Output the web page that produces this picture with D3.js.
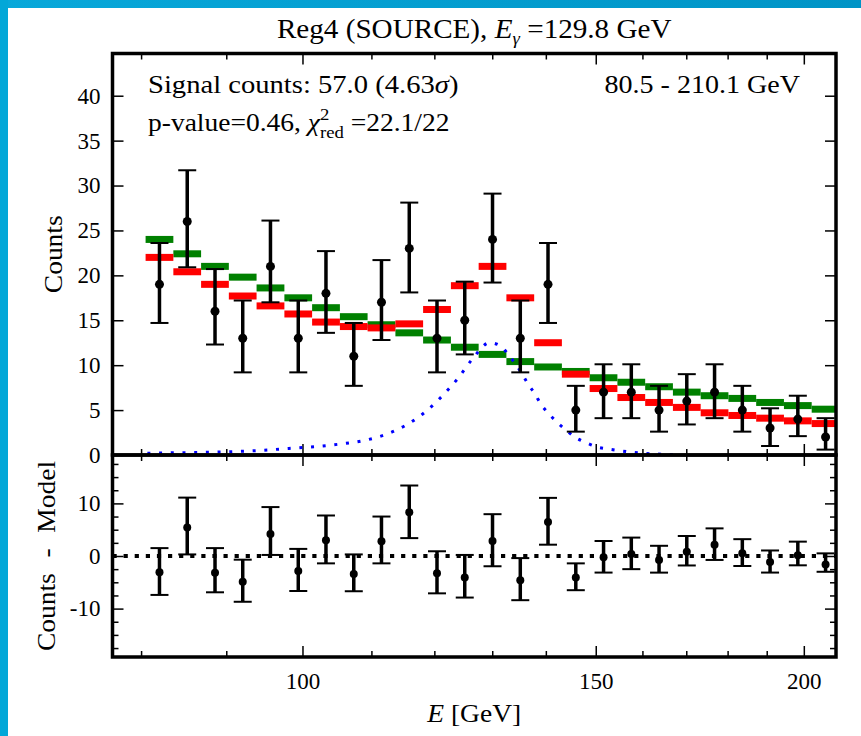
<!DOCTYPE html>
<html>
<head>
<meta charset="utf-8">
<title>Reg4 counts</title>
<script src="https://d3js.org/d3.v7.min.js"></script>
<style>
  body { margin: 0; background: #fff; }
  svg text { font-family: "Liberation Serif", "DejaVu Serif", serif; fill: #000; white-space: pre; }
</style>
</head>
<body>
<div id="chart"></div>
<script>
// energy bins (GeV), log spaced 80.5 - 210.1
var binEdges = [80.50, 83.65, 86.92, 90.32, 93.85, 97.53, 101.34, 105.31, 109.42, 113.71,
  118.15, 122.78, 127.58, 132.57, 137.76, 143.14, 148.74, 154.56, 160.61, 166.89,
  173.42, 180.20, 187.25, 194.58, 202.19, 210.10];
var binCenters = [82.06, 85.27, 88.61, 92.07, 95.67, 99.42, 103.30, 107.35, 111.54, 115.91,
  120.44, 125.15, 130.05, 135.14, 140.42, 145.92, 151.63, 157.56, 163.72, 170.12,
  176.78, 183.70, 190.88, 198.35, 206.11];
var counts = [19, 26, 16, 13, 21, 13, 18, 11, 17, 23, 13, 15, 24, 13, 19, 5, 7, 7, 5, 6, 7, 5, 3, 4, 2];
var errUp = [4.6, 5.7, 4.7, 4.2, 5.1, 4.2, 4.7, 3.7, 4.7, 5.1, 4.2, 4.3, 5.1, 4.2, 4.6, 2.7, 3.1, 3.1, 2.7, 3.0, 3.1, 2.7, 2.2, 2.6, 2.1];
var errDown = [4.3, 5.1, 3.7, 3.8, 4.0, 3.8, 4.4, 3.3, 4.2, 4.9, 3.8, 3.8, 4.8, 3.8, 4.3, 2.4, 2.9, 2.9, 2.4, 2.6, 2.9, 2.4, 2.0, 1.9, 1.4];
var modelRed = [22.0, 20.4, 19.0, 17.7, 16.6, 15.7, 14.8, 14.3, 14.15, 14.6, 16.2, 18.85, 21.0,
  17.5, 12.5, 9.0, 7.4, 6.4, 5.85, 5.3, 4.7, 4.4, 4.1, 3.8, 3.5];
var modelGreen = [24.0, 22.4, 21.0, 19.8, 18.6, 17.5, 16.4, 15.4, 14.5, 13.6, 12.8, 12.0, 11.2,
  10.4, 9.8, 9.3, 8.6, 8.1, 7.6, 7.0, 6.6, 6.3, 5.85, 5.5, 5.1];
var residuals = [-3.1, 5.4, -3.2, -4.9, 4.2, -2.85, 3.0, -3.4, 2.8, 8.3, -3.3, -4.1, 2.85,
  -4.6, 6.45, -4.1, -0.25, 0.4, -0.76, 0.8, 2.15, 0.5, -1.15, 0.13, -1.6];
// signal line (blue dotted)
var sigE = [80.7, 84.9, 89.2, 93.6, 98.4, 101.7, 105.0, 108.5, 112.1, 115.4, 118.6, 121.4, 124.1,
  126.5, 129.5, 131.6, 133.0, 134.3, 135.5, 136.6, 137.9, 139.0, 140.4, 142.1, 143.9, 145.7,
  147.9, 150.2, 152.6, 155.1, 157.7, 160.2, 162.9, 165.8, 168.6];
var sigV = [0.2, 0.26, 0.33, 0.48, 0.74, 0.93, 1.19, 1.56, 2.26, 3.33, 4.85, 6.63, 8.63,
  10.7, 12.5, 12.1, 11.1, 10.1, 9.0, 7.9, 6.8, 5.7, 4.7, 3.7, 2.8, 2.0,
  1.4, 0.9, 0.67, 0.48, 0.3, 0.19, 0.11, 0.07, 0.03];

var xMajor = [100, 150, 200];
var xMinor = [80, 90, 110, 120, 130, 140, 160, 170, 180, 190];
var yTicksTop = [0, 5, 10, 15, 20, 25, 30, 35, 40];
var yTicksBottom = [-10, 0, 10];
var yMinorBottom = [-17.5, -15, -12.5, -7.5, -5, -2.5, 2.5, 5, 7.5, 12.5, 15, 17.5];

var W = 861, H = 736;
var left = 112.5, right = 836, top1 = 53.5, mid = 455, bot = 657;
var FONT = '"Liberation Serif", "DejaVu Serif", serif';

var svg = d3.select('#chart').append('svg')
  .attr('width', W).attr('height', H)
  .attr('font-family', FONT);

// blue frame
var defs = svg.append('defs');
var grad = defs.append('linearGradient').attr('id', 'band');
grad.append('stop').attr('offset', '0%').attr('stop-color', '#08a8da');
grad.append('stop').attr('offset', '100%').attr('stop-color', '#0094c6');
svg.append('rect').attr('x', 0).attr('y', 0).attr('width', W).attr('height', 8).attr('fill', 'url(#band)');
svg.append('rect').attr('x', 0).attr('y', 0).attr('width', 8).attr('height', H).attr('fill', '#02a7d8');

defs.append('clipPath').attr('id', 'clipTop')
  .append('rect').attr('x', left).attr('y', top1).attr('width', right - left).attr('height', mid - top1);

var x = d3.scaleLog().domain([76.9, 209.1]).range([left, right]);
var yU = d3.scaleLinear().domain([0, 44.7]).range([mid, top1]);
var yL = d3.scaleLinear().domain([-19.2, 19.2]).range([bot, mid]);

function plain(g) {
  g.select('.domain').remove();
  g.selectAll('line').attr('stroke', '#000').attr('stroke-width', 1.5);
  g.attr('font-family', FONT).attr('font-size', 23);
}

// x ticks, all inward
[[top1, 'top'], [mid, 'bottom'], [mid, 'top'], [bot, 'bottom']].forEach(function(p) {
  var mk = p[1] === 'top' ? d3.axisTop : d3.axisBottom;
  var labels = p[0] === bot;
  svg.append('g').attr('transform', 'translate(0,' + p[0] + ')')
    .call(mk(x).tickValues(xMajor).tickSize(-11).tickPadding(16)
      .tickFormat(labels ? function(d) { return d; } : ''))
    .call(plain);
  svg.append('g').attr('transform', 'translate(0,' + p[0] + ')')
    .call(mk(x).tickValues(xMinor).tickSize(-6).tickFormat(''))
    .call(plain);
});

// y ticks upper
svg.append('g').attr('transform', 'translate(' + left + ',0)')
  .call(d3.axisLeft(yU).tickValues(yTicksTop).tickSize(-11).tickPadding(12))
  .call(plain);
svg.append('g').attr('transform', 'translate(' + right + ',0)')
  .call(d3.axisRight(yU).tickValues(yTicksTop).tickSize(-11).tickFormat(''))
  .call(plain);
// y ticks lower
svg.append('g').attr('transform', 'translate(' + left + ',0)')
  .call(d3.axisLeft(yL).tickValues(yTicksBottom).tickSize(-11).tickPadding(12)
    .tickFormat(function(d) { return String(d); }))
  .call(plain);
svg.append('g').attr('transform', 'translate(' + right + ',0)')
  .call(d3.axisRight(yL).tickValues(yTicksBottom).tickSize(-11).tickFormat(''))
  .call(plain);
svg.append('g').attr('transform', 'translate(' + left + ',0)')
  .call(d3.axisLeft(yL).tickValues(yMinorBottom).tickSize(-6).tickFormat(''))
  .call(plain);
svg.append('g').attr('transform', 'translate(' + right + ',0)')
  .call(d3.axisRight(yL).tickValues(yMinorBottom).tickSize(-6).tickFormat(''))
  .call(plain);

// model steps
var plot = svg.append('g').attr('clip-path', 'url(#clipTop)');
function steps(vals, color) {
  plot.append('g').selectAll('rect').data(vals).enter().append('rect')
    .attr('x', function(d, i) { return x(binEdges[i]); })
    .attr('width', function(d, i) { return x(binEdges[i + 1]) - x(binEdges[i]); })
    .attr('y', function(d) { return yU(d) - 3.5; })
    .attr('height', 7)
    .attr('fill', color);
}
steps(modelGreen, '#008000');
steps(modelRed, '#ff0000');

// signal line
var sig = sigE.map(function(e, i) { return [e, sigV[i]]; });
plot.append('path').datum(sig)
  .attr('d', d3.line().x(function(d) { return x(d[0]); }).y(function(d) { return yU(d[1]); })
    .curve(d3.curveMonotoneX))
  .attr('fill', 'none').attr('stroke', '#0000ff').attr('stroke-width', 3)
  .attr('stroke-dasharray', '3,8.7');

// residual zero line
svg.append('line').attr('x1', left).attr('x2', right).attr('y1', yL(0)).attr('y2', yL(0))
  .attr('stroke', '#000').attr('stroke-width', 4.2).attr('stroke-dasharray', '4.2,6.9');

function errorbars(vals, y, r) {
  var g = svg.append('g');
  var pts = g.selectAll('g').data(vals).enter().append('g');
  pts.append('line')
    .attr('x1', function(d, i) { return x(binCenters[i]); })
    .attr('x2', function(d, i) { return x(binCenters[i]); })
    .attr('y1', function(d, i) { return y(d + errUp[i]); })
    .attr('y2', function(d, i) { return y(d - errDown[i]); })
    .attr('stroke', '#000').attr('stroke-width', 3.5);
  [errUp, errDown].forEach(function(arr, k) {
    pts.append('line')
      .attr('x1', function(d, i) { return x(binCenters[i]) - 9; })
      .attr('x2', function(d, i) { return x(binCenters[i]) + 9; })
      .attr('y1', function(d, i) { return y(k ? d - arr[i] : d + arr[i]); })
      .attr('y2', function(d, i) { return y(k ? d - arr[i] : d + arr[i]); })
      .attr('stroke', '#000').attr('stroke-width', 2);
  });
  pts.append('circle')
    .attr('cx', function(d, i) { return x(binCenters[i]); })
    .attr('cy', function(d) { return y(d); })
    .attr('r', r).attr('fill', '#000');
}
errorbars(counts, yU, 4.5);
errorbars(residuals, yL, 4);

// spines
[[top1, mid], [mid, bot]].forEach(function(p) {
  svg.append('rect').attr('x', left).attr('y', p[0]).attr('width', right - left)
    .attr('height', p[1] - p[0]).attr('fill', 'none').attr('stroke', '#000').attr('stroke-width', 3.5);
});

// rich text laid out piece by piece, stretched a little to mimic the wider TeX font
var SX = 1.1;
function rich(x0, y0, segs, anchor, size) {
  var g = svg.append('g');
  var cx = 0, prevStart = 0;
  segs.forEach(function(s) {
    var sx = s.stack ? prevStart : cx;
    var t = g.append('text').attr('x', sx).attr('y', s.dy || 0)
      .attr('font-size', s.fs || size)
      .style('font-style', s.it ? 'italic' : 'normal')
      .text(s.t);
    var w = t.node().getComputedTextLength();
    if (s.stack) { cx = Math.max(cx, sx + w); }
    else { prevStart = sx; cx = sx + w; }
  });
  var wS = cx * SX;
  var off = anchor === 'middle' ? -wS / 2 : anchor === 'end' ? -wS : 0;
  g.attr('transform', 'translate(' + (x0 + off) + ',' + y0 + ') scale(' + SX + ',1)');
}

rich((left + right) / 2, 38, [
  { t: 'Reg4 (SOURCE),\u00a0' }, { t: 'E', it: true }, { t: 'γ', it: true, fs: 17, dy: 6 },
  { t: '\u00a0=129.8 GeV' }], 'middle', 26.5);
rich(148, 93, [{ t: 'Signal counts: 57.0 (4.63' }, { t: 'σ', it: true }, { t: ')' }], 'start', 26);
rich(148, 131, [{ t: 'p-value=0.46,\u00a0' }, { t: 'χ', it: true },
  { t: '2', fs: 17, dy: -11 }, { t: 'red', fs: 17, dy: 7, stack: true },
  { t: '\u00a0=22.1/22' }], 'start', 25);
rich(800, 93, [{ t: '80.5 - 210.1 GeV' }], 'end', 25.5);
rich((left + right) / 2, 722, [{ t: 'E', it: true }, { t: '\u00a0[GeV]' }], 'middle', 25);

svg.append('text').attr('transform', 'translate(62,' + ((top1 + mid) / 2) + ') rotate(-90) scale(1.1,1)')
  .attr('text-anchor', 'middle').attr('font-size', 25).text('Counts');
svg.append('text').attr('transform', 'translate(55,' + ((mid + bot) / 2) + ') rotate(-90) scale(1.1,1)')
  .attr('text-anchor', 'middle').attr('font-size', 25).attr('word-spacing', 8)
  .text('Counts - Model');
</script>
</body>
</html>
